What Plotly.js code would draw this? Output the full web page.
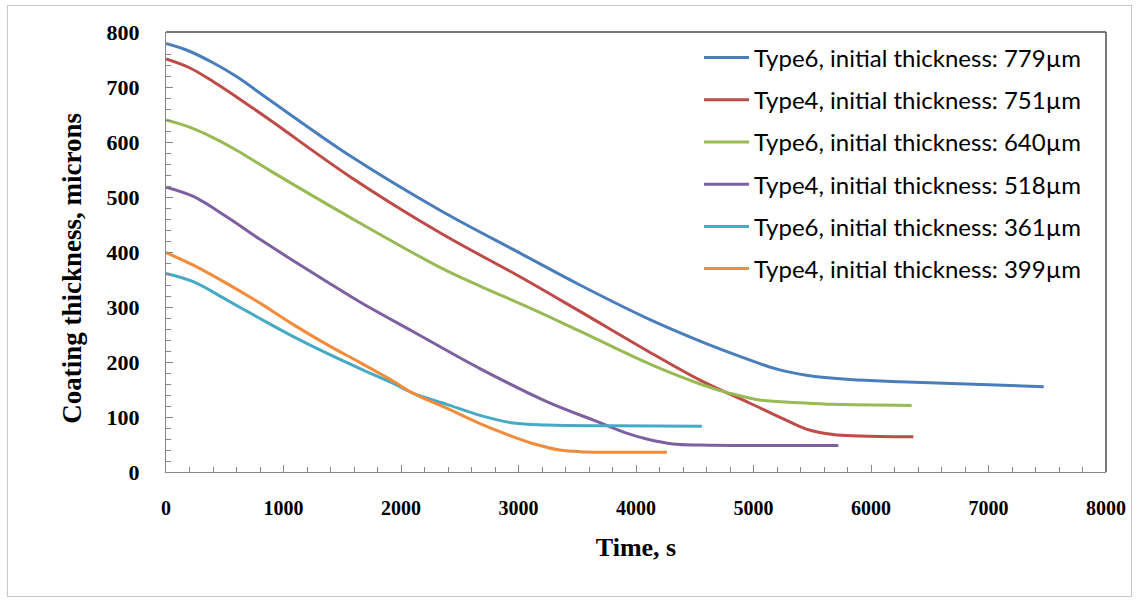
<!DOCTYPE html>
<html>
<head>
<meta charset="utf-8">
<script src="https://cdn.plot.ly/plotly-3.0.1.min.js"></script>
<style>
  html, body { margin: 0; padding: 0; background: #ffffff; }
  #wrap { position: relative; width: 1139px; height: 602px; }
  #chart { position: absolute; left: 0; top: 0; width: 1139px; height: 602px; }
  #frame { position: absolute; left: 7px; top: 5px; width: 1123px; height: 590px;
           border: 1px solid #c8c8c8; pointer-events: none; }
</style>
</head>
<body>
<div id="wrap">
  <div id="chart"></div>
  <div id="frame"></div>
</div>
<script>
// ---- data ----
const seriesNames = [
  "Type6, initial thickness: 779\u00b5m",
  "Type4, initial thickness: 751\u00b5m",
  "Type6, initial thickness: 640\u00b5m",
  "Type4, initial thickness: 518\u00b5m",
  "Type6, initial thickness: 361\u00b5m",
  "Type4, initial thickness: 399\u00b5m"
];

const t779 = [0, 200, 400, 600, 885, 1566, 2332, 3013, 3523, 4119, 4545, 4900, 5200, 5450, 5821, 6247, 6814, 7470];
const v779 = [779, 765, 744, 719, 676, 575, 476, 398, 340, 277, 238, 209, 187, 176, 168, 164, 160, 155];

const t751 = [0, 200, 400, 600, 885, 1566, 2332, 3013, 3523, 4091, 4545, 4970, 5250, 5450, 5679, 5900, 6360];
const v751 = [751, 735, 710, 682, 640, 537, 435, 355, 292, 221, 167, 125, 97, 78, 68, 65.5, 64];

const t640 = [0, 200, 400, 600, 885, 1566, 2332, 2672, 3100, 3523, 4119, 4545, 4800, 5050, 5396, 5679, 6346];
const v640 = [640, 627, 608, 585, 548, 463, 372, 338, 298, 256, 196, 160, 143, 131, 126, 123, 121];

const t518 = [0, 233, 516, 800, 1084, 1339, 1651, 2105, 2672, 3240, 3665, 3900, 4091, 4318, 4545, 5722];
const v518 = [518, 501, 464, 423, 384, 350, 309, 255, 188, 128, 92, 72, 60, 51, 49, 48];

const t361 = [0, 232, 516, 800, 1084, 1367, 1651, 1935, 2105, 2389, 2672, 2956, 3240, 3807, 4560];
const v361 = [361, 346, 313, 279, 246, 216, 188, 161, 143, 123, 103, 89, 85.5, 84, 83];

const t399 = [0, 232, 516, 800, 1084, 1367, 1651, 1935, 2105, 2389, 2672, 2956, 3150, 3350, 3523, 4264];
const v399 = [399, 376, 343, 307, 268, 232, 199, 165, 143, 116, 88, 64, 50, 40, 37, 36];

const xTicks = [0, 1000, 2000, 3000, 4000, 5000, 6000, 7000, 8000];
const yTicks = [0, 100, 200, 300, 400, 500, 600, 700, 800];

const xTitle = "Time, s";
const yTitle = "Coating thickness, microns";

// ---- styling ----
const colors = ["#4a7ebb", "#be4b48", "#98b954", "#7d60a0", "#46aac5", "#f08c3c"];
const xs = [t779, t751, t640, t518, t361, t399];
const ys = [v779, v751, v640, v518, v361, v399];

const traces = xs.map((x, i) => ({
  x: x, y: ys[i], type: "scatter", mode: "lines",
  name: seriesNames[i], legendgroup: "g" + i,
  line: { color: colors[i], width: 3, shape: "spline", smoothing: 1 },
  hoverinfo: "x+y+name"
}));

const serif = "Liberation Serif, Times New Roman, serif";
const axisGray = "#868686";

const layout = {
  width: 1139, height: 602,
  margin: { l: 166, r: 33, t: 32, b: 130, pad: 0 },
  paper_bgcolor: "#ffffff", plot_bgcolor: "#ffffff",
  showlegend: true,
  legend: {
    x: 0.567, y: 0.992, xanchor: "left", yanchor: "top",
    bgcolor: "rgba(255,255,255,0)", borderwidth: 0,
    font: { family: "Lato, Open Sans, sans-serif", size: 24, color: "#000000" },
    itemwidth: 45, tracegroupgap: 8, traceorder: "grouped"
  },
  xaxis: {
    range: [0, 8000], tickvals: xTicks, ticktext: xTicks.map(String),
    showgrid: false, zeroline: false,
    showline: true, linecolor: axisGray, linewidth: 1,
    ticks: "inside", ticklen: 7, tickcolor: axisGray, tickwidth: 1,
    minor: { dtick: 200, ticks: "inside", ticklen: 5, tickcolor: axisGray, tickwidth: 1, showgrid: false },
    tickfont: { family: serif, size: 20, color: "#000000", weight: "bold" },
    ticklabelstandoff: 18,
    title: { text: xTitle, standoff: 19, font: { family: serif, size: 26, color: "#000000", weight: "bold" } },
    fixedrange: true
  },
  yaxis: {
    range: [0, 800], tickvals: yTicks, ticktext: yTicks.map(String),
    showgrid: false, zeroline: false,
    showline: true, linecolor: axisGray, linewidth: 1,
    ticks: "inside", ticklen: 7, tickcolor: axisGray, tickwidth: 1,
    minor: { dtick: 20, ticks: "inside", ticklen: 5, tickcolor: axisGray, tickwidth: 1, showgrid: false },
    tickfont: { family: serif, size: 22, color: "#000000", weight: "bold" },
    ticklabelstandoff: 21,
    fixedrange: true
  },
  annotations: [
    { text: yTitle, xref: "paper", yref: "paper", x: -0.1, y: 0.462,
      xanchor: "center", yanchor: "middle", textangle: -90, showarrow: false,
      font: { family: serif, size: 27, color: "#000000", weight: "bold" } }
  ],
  shapes: [
    { type: "line", xref: "paper", yref: "paper", x0: 0, x1: 1, y0: 1, y1: 1,
      line: { color: "#4d4d4d", width: 1.5 } },
    { type: "line", xref: "paper", yref: "paper", x0: 1, x1: 1, y0: 0, y1: 1,
      line: { color: "#4d4d4d", width: 1.5 } }
  ]
};

Plotly.newPlot("chart", traces, layout, { displayModeBar: false });
</script>
</body>
</html>
